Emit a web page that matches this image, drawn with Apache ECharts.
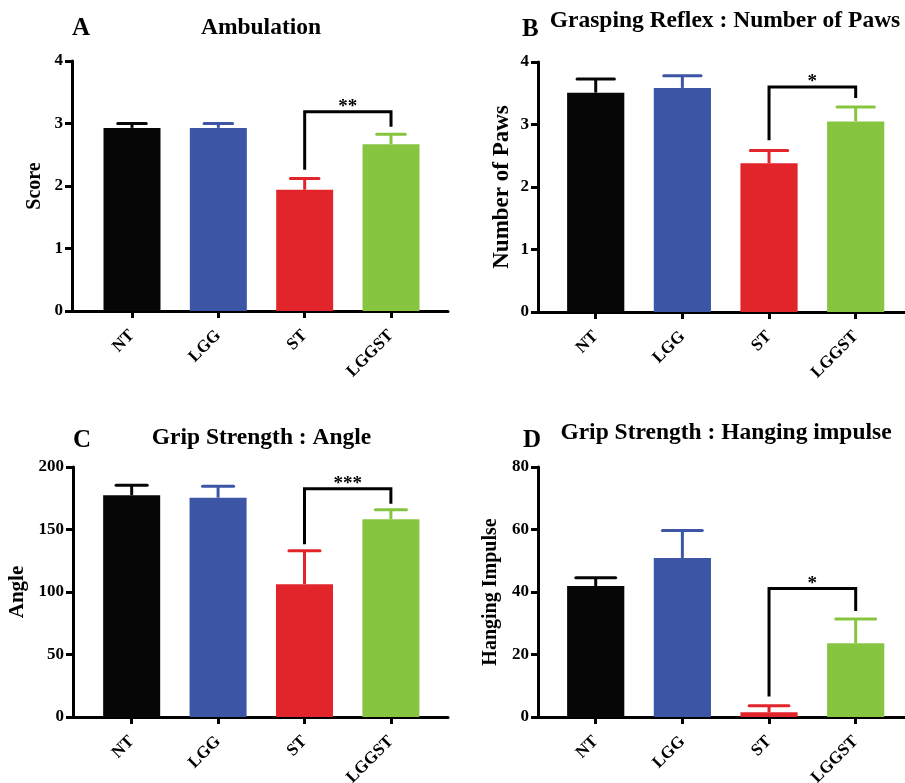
<!DOCTYPE html>
<html>
<head>
<meta charset="utf-8">
<script src="https://cdn.jsdelivr.net/npm/echarts@6/dist/echarts.min.js"></script>
<style>
html,body{margin:0;padding:0;background:#fff;}
#chart{width:905px;height:783px;}
</style>
</head>
<body>
<div id="chart"></div>
<script>
// ---- data ----
const categories = ['NT', 'LGG', 'ST', 'LGGST'];

const ambulationMean = [2.93, 2.93, 1.94, 2.67];
const ambulationSem  = [0.07, 0.07, 0.18, 0.16];
const ambulationBracket = [2, 3, 3.19, 2.26, 2.95];
const ambulationStars = '**';

const pawsMean = [3.51, 3.585, 2.38, 3.05];
const pawsSem  = [0.22, 0.195, 0.205, 0.23];
const pawsBracket = [2, 3, 3.60, 2.75, 3.425];
const pawsStars = '*';

const angleMean = [177.4, 175.5, 106.2, 158.2];
const angleSem  = [8.0, 9.1, 26.9, 7.7];
const angleBracket = [2, 3, 182.7, 138.2, 170.7];
const angleStars = '***';

const hangingMean = [41.9, 50.9, 1.5, 23.6];
const hangingSem  = [2.7, 8.8, 2.1, 7.8];
const hangingBracket = [2, 3, 41.1, 6.6, 33.9];
const hangingStars = '*';

const yTicksA = [0, 1, 2, 3, 4];
const yTicksB = [0, 1, 2, 3, 4];
const yTicksC = [0, 50, 100, 150, 200];
const yTicksD = [0, 20, 40, 60, 80];

// ---- styles ----
const barColors = ['#060606', '#3c56a5', '#e2252b', '#87c440'];
const FONT = '"Liberation Serif", "Times New Roman", serif';

const panels = [
  {grid:{left:72, top:61, width:376, height:250}, xMin:-0.695, xMax:3.66, yTicks:yTicksA,
   name:'Score', nameSize:20, nameGap:27, mean:ambulationMean, sem:ambulationSem,
   bracket:ambulationBracket, stars:ambulationStars, cap:0.33},
  {grid:{left:538, top:62, width:367, height:250}, xMin:-0.666, xMax:3.569, yTicks:yTicksB,
   name:'Number of Paws', nameSize:23, nameGap:24, mean:pawsMean, sem:pawsSem,
   bracket:pawsBracket, stars:pawsStars, cap:0.43},
  {grid:{left:73, top:467, width:375, height:250}, xMin:-0.679, xMax:3.661, yTicks:yTicksC,
   name:'Angle', nameSize:21, nameGap:45, mean:angleMean, sem:angleSem,
   bracket:angleBracket, stars:angleStars, cap:0.36},
  {grid:{left:538, top:467, width:367, height:250}, xMin:-0.666, xMax:3.569, yTicks:yTicksD,
   name:'Hanging Impulse', nameSize:20, nameGap:37, mean:hangingMean, sem:hangingSem,
   bracket:hangingBracket, stars:hangingStars, cap:0.46}
];

const grids = [], xAxes = [], yAxes = [], series = [];
const catIdx = categories.map((c, i) => i);

panels.forEach((p, k) => {
  grids.push(Object.assign({containLabel:false, outerBoundsMode:'none'}, p.grid));
  xAxes.push({
    type:'value', gridIndex:k, min:p.xMin, max:p.xMax,
    axisLine:{show:true, onZero:false, lineStyle:{color:'#000', width:3}},
    axisTick:{show:true, customValues:catIdx, length:7, lineStyle:{color:'#000', width:3}},
    axisLabel:{show:true, customValues:catIdx, rotate:45, margin:22,
      formatter:(v) => categories[Math.round(v)],
      color:'#000', fontFamily:FONT, fontWeight:'bold', fontSize:17},
    splitLine:{show:false}
  });
  const yt = p.yTicks;
  yAxes.push({
    type:'value', gridIndex:k, min:yt[0], max:yt[yt.length-1], interval:yt[1]-yt[0],
    name:p.name, nameLocation:'middle', nameGap:p.nameGap, nameRotate:90,
    nameTextStyle:{color:'#000', fontFamily:FONT, fontWeight:'bold', fontSize:p.nameSize},
    axisLine:{show:true, onZero:false, lineStyle:{color:'#000', width:3}},
    axisTick:{show:true, length:7, lineStyle:{color:'#000', width:3}},
    axisLabel:{color:'#000', fontFamily:FONT, fontWeight:'bold', fontSize:17, margin:9},
    splitLine:{show:false}
  });
  const capW = p.cap;
  series.push({
    type:'custom', xAxisIndex:k, yAxisIndex:k, clip:false,
    data: categories.map((c, i) => [i, p.mean[i], p.sem[i]]),
    renderItem:(params, api) => {
      const i = api.value(0), v = api.value(1), e = api.value(2);
      const top = api.coord([i, v]);
      const base = api.coord([i, 0]);
      const errTop = api.coord([i, v + e]);
      const w = api.size([0.66, 0])[0];
      const cw = api.size([capW, 0])[0];
      const col = barColors[i];
      return {type:'group', children:[
        {type:'rect', shape:{x:top[0]-w/2, y:top[1], width:w, height:base[1]-top[1]}, style:{fill:col}},
        {type:'line', shape:{x1:top[0], y1:top[1], x2:top[0], y2:errTop[1]}, style:{stroke:col, lineWidth:3}},
        {type:'line', shape:{x1:top[0]-cw/2, y1:errTop[1], x2:top[0]+cw/2, y2:errTop[1]}, style:{stroke:col, lineWidth:3, lineCap:'round'}}
      ]};
    }
  });
  const stars = p.stars;
  series.push({
    type:'custom', xAxisIndex:k, yAxisIndex:k, clip:false,
    data:[p.bracket],
    renderItem:(params, api) => {
      const a = api.value(0), b = api.value(1), h = api.value(2), la = api.value(3), lb = api.value(4);
      const p1 = api.coord([a, la]), p2 = api.coord([a, h]), p3 = api.coord([b, h]), p4 = api.coord([b, lb]);
      return {type:'group', children:[
        {type:'polyline', shape:{points:[p1, p2, p3, p4]}, style:{stroke:'#000', lineWidth:3, fill:null}},
        {type:'text', x:(p2[0]+p3[0])/2, y:p2[1]+5,
          style:{text:stars, font:'bold 19px ' + FONT, fill:'#000', align:'center', verticalAlign:'bottom'}}
      ]};
    }
  });
});

const titleFont = 'bold 23.5px ' + FONT;
const letterFont = 'bold 25px ' + FONT;
const graphics = [
  {type:'text', x:72, y:29, style:{text:'A', font:letterFont, fill:'#000', align:'left', verticalAlign:'middle'}},
  {type:'text', x:261, y:28, style:{text:'Ambulation', font:titleFont, fill:'#000', align:'center', verticalAlign:'middle'}},
  {type:'text', x:522, y:30, style:{text:'B', font:letterFont, fill:'#000', align:'left', verticalAlign:'middle'}},
  {type:'text', x:725, y:21, style:{text:'Grasping Reflex : Number of Paws', font:titleFont, fill:'#000', align:'center', verticalAlign:'middle'}},
  {type:'text', x:73, y:440.5, style:{text:'C', font:letterFont, fill:'#000', align:'left', verticalAlign:'middle'}},
  {type:'text', x:261.5, y:438, style:{text:'Grip Strength : Angle', font:titleFont, fill:'#000', align:'center', verticalAlign:'middle'}},
  {type:'text', x:523, y:440.5, style:{text:'D', font:letterFont, fill:'#000', align:'left', verticalAlign:'middle'}},
  {type:'text', x:726, y:433, style:{text:'Grip Strength : Hanging impulse', font:titleFont, fill:'#000', align:'center', verticalAlign:'middle'}}
];

const chart = echarts.init(document.getElementById('chart'), null, {renderer:'canvas'});
chart.setOption({
  backgroundColor:'#fff',
  animation:false,
  grid:grids,
  xAxis:xAxes,
  yAxis:yAxes,
  series:series,
  graphic:graphics
});
</script>
</body>
</html>
